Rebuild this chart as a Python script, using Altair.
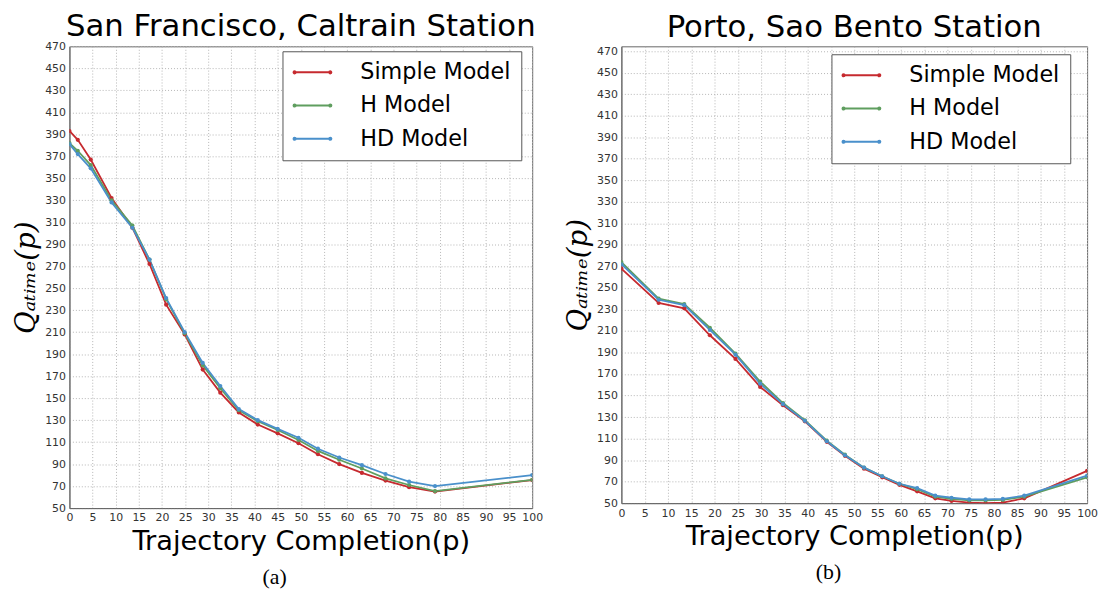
import altair as alt
import pandas as pd

models = ["Simple Model", "H Model", "HD Model"]
colors = ["#c62a2f", "#5f9e5f", "#4a90cb"]

# San Francisco, Caltrain Station
sf_x = [0, 1.8, 4.6, 9.1, 13.6, 17.3, 20.9, 24.9, 28.8, 32.6, 36.6,
        40.7, 45.0, 49.5, 53.7, 58.3, 63.2, 68.3, 73.4, 79.0, 100]
sf_simple = [393, 385, 367, 332, 305, 272, 235, 208, 176, 155, 137,
             126, 118, 109, 99, 90, 82, 75, 69, 65, 75.5]
sf_h = [382, 375, 362, 330, 307, 276, 240, 209, 180, 159, 139,
        129, 121, 112, 102, 94, 86, 77, 71, 65.5, 75.7]
sf_hd = [381, 372, 359, 328, 305, 276, 241, 210, 182, 161, 140,
         130, 122, 114, 104, 96, 89, 81, 74, 70, 80]

# Porto, Sao Bento Station
po_x = [0, 8.0, 13.5, 19.0, 24.5, 29.8, 34.7, 39.4, 44.1, 48.0, 52.1,
        56.0, 59.7, 63.5, 67.4, 70.9, 74.7, 78.2, 81.9, 86.5, 100]
po_simple = [268, 236, 231, 206, 184, 158, 141, 126, 107, 94, 82,
             74, 67, 61, 54.5, 52, 50.5, 50, 50.5, 54.5, 80]
po_h = [274, 240, 235, 213, 189, 163, 143, 127, 108, 95, 83,
        75, 68, 63, 56, 54, 52.5, 52.5, 53, 56, 74]
po_hd = [272, 239, 234, 211, 188, 161, 142, 126.5, 107.5, 94.5, 83,
         75, 68, 64, 57, 55, 53.5, 53.5, 54, 57, 75.5]

x_ticks = list(range(0, 101, 5))
y_ticks = list(range(50, 471, 20))

# legend glyph: a short line with a dot at each end (drawn 2x wider than its slot)
LEGEND_PATH = ("M-1,0L3,0"
               "M-1.12,0a0.12,0.12 0 1,0 0.24,0a0.12,0.12 0 1,0 -0.24,0"
               "M2.88,0a0.12,0.12 0 1,0 0.24,0a0.12,0.12 0 1,0 -0.24,0")


def long_df(xs, series):
    rows = []
    for m, vals in zip(models, series):
        for i, (x, v) in enumerate(zip(xs, vals)):
            rows.append({"p": x, "q": v, "model": m, "idx": i})
    return pd.DataFrame(rows)


def panel(title, xs, series, w, h, ymax, caption, legend_x, legend_y, cap_x,
          title_offset):
    df = long_df(xs, series)
    xenc = alt.X("p:Q", scale=alt.Scale(domain=[0, 100], nice=False),
                 axis=alt.Axis(values=x_ticks, title="Trajectory Completion(p)"))
    yenc = alt.Y("q:Q", scale=alt.Scale(domain=[50, ymax], nice=False),
                 axis=alt.Axis(values=y_ticks, title="Qₐₜᵢₘₑ(p)"))
    color = alt.Color(
        "model:N",
        scale=alt.Scale(domain=models, range=colors),
        legend=alt.Legend(
            title=None, orient="none", legendX=legend_x, legendY=legend_y,
            symbolType=LEGEND_PATH, symbolSize=324, symbolStrokeWidth=2,
            labelFontSize=22.5, labelFont="DejaVu Sans", labelColor="black",
            labelOffset=46, rowPadding=10.5, padding=10,
            fillColor="white", strokeColor="#555", labelLimit=300,
        ),
    )
    base = alt.Chart(df).encode(x=xenc, y=yenc, color=color,
                                order=alt.Order("idx:Q"))
    lines = base.mark_line(strokeWidth=1.8, clip=True)
    pts = base.mark_circle(size=18, opacity=1, clip=True)
    cap = alt.Chart(pd.DataFrame({"caption": [caption]})).mark_text(
        font="Liberation Serif", fontSize=22, color="black"
    ).encode(text="caption:N", x=alt.value(cap_x), y=alt.value(h + 70))
    return alt.layer(lines, pts, cap).properties(
        width=w, height=h,
        title=alt.TitleParams(title, fontSize=31, font="DejaVu Sans",
                              fontWeight="normal", color="black",
                              offset=title_offset),
    )


left = panel("San Francisco, Caltrain Station", sf_x, [sf_simple, sf_h, sf_hd],
             467, 466, 470, "(a)", 215, 5, 207, -3)
right = panel("Porto, Sao Bento Station", po_x, [po_simple, po_h, po_hd],
              470, 461, 474.5, "(b)", 212, 8, 209, 1)

chart = alt.hconcat(left, right, spacing=21).resolve_scale(
    color="independent"
).properties(
    padding={"left": 4, "top": 0, "right": 0, "bottom": 0}
).configure_view(
    stroke="#666", strokeWidth=1
).configure_axis(
    labelFontSize=11, labelFont="DejaVu Sans", labelColor="#333",
    ticks=False, labelPadding=4, labelOverlap=False, labelFlush=False,
    grid=True, gridColor="#b5b5b5", gridDash=[1, 2], gridWidth=1,
    domainColor="#666",
    titleColor="black", titleFontWeight="normal",
).configure_axisX(
    titleFont="DejaVu Sans", titleFontSize=27.5, titlePadding=5,
).configure_axisY(
    titleFont="DejaVu Serif", titleFontStyle="italic", titleFontSize=28,
    titlePadding=4,
)

chart.save("out.html", embed_options={"renderer": "svg", "actions": False})
